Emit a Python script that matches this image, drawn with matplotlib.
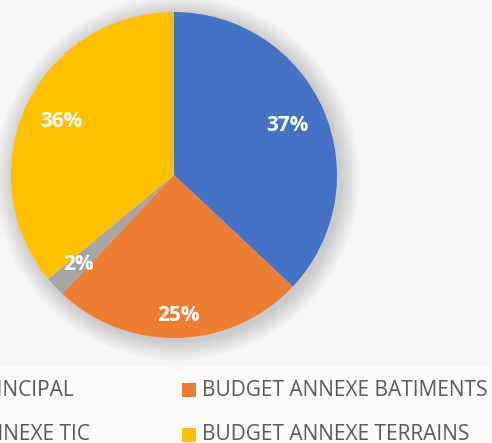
import numpy as np
import matplotlib
matplotlib.use("Agg")
import matplotlib.pyplot as plt
from matplotlib.patches import Circle, Rectangle

categories = ["BUDGET PRINCIPAL", "BUDGET ANNEXE BATIMENTS", "BUDGET ANNEXE TIC", "BUDGET ANNEXE TERRAINS"]
values = [37, 25, 2, 36]
labels = ["37%", "25%", "2%", "36%"]
colors = ["#4472C4", "#ED7D31", "#A5A5A5", "#FFC000"]

W, H = 492, 443
fig = plt.figure(figsize=(W / 100, H / 100), dpi=100)
fig.patch.set_facecolor("#f6f6f6")
fig.patches.append(Rectangle((0, 0), 1, (H - 366) / H, transform=fig.transFigure,
                             facecolor="#fbfbfb", edgecolor="none", zorder=0))

ax = fig.add_axes([0, 0, 1, 1])
ax.set_facecolor("none")
cx, cy, R = 174, 175, 163
ax.axis("off")

# soft shadow
n = 22
for i in range(n):
    r = 1 + (n - i) * 0.9 / R
    ax.add_patch(Circle((3 / R, -3 / R), r, facecolor="black", edgecolor="none",
                        alpha=0.0075, zorder=1))

wedges, _ = ax.pie(values, colors=colors, startangle=90, counterclock=False,
                   wedgeprops=dict(linewidth=0, zorder=2))
for w in wedges:
    w.set_zorder(2)

dists = [0.76, 0.86, 0.80, 0.765]
for w, lab, d in zip(wedges, labels, dists):
    th = np.deg2rad((w.theta1 + w.theta2) / 2)
    ax.text(d * np.cos(th), d * np.sin(th), lab, ha="center", va="center",
            color="white", fontsize=15, fontweight="bold", family="Open Sans", zorder=3)

ax.set_aspect("auto")
ax.set_xlim(-cx / R, (W - cx) / R)
ax.set_ylim(-(H - cy) / R, cy / R)

# legend
tc = "#595959"
fs = 15
fig.text(74 / W, 1 - 390 / H, categories[0], ha="right", va="center", color=tc,
         fontsize=fs, family="Open Sans")
fig.text(90 / W, 1 - 435 / H, categories[2], ha="right", va="center", color=tc,
         fontsize=fs, family="Open Sans")
fig.text(202 / W, 1 - 390 / H, categories[1], ha="left", va="center", color=tc,
         fontsize=fs, family="Open Sans")
fig.text(202 / W, 1 - 435 / H, categories[3], ha="left", va="center", color=tc,
         fontsize=fs, family="Open Sans")
fig.patches.append(Rectangle((182 / W, 1 - 397 / H), 14 / W, 14 / H, transform=fig.transFigure,
                             facecolor=colors[1], edgecolor="none"))
fig.patches.append(Rectangle((182 / W, 1 - 442 / H), 14 / W, 14 / H, transform=fig.transFigure,
                             facecolor=colors[3], edgecolor="none"))

fig.savefig("out.png", dpi=100)
